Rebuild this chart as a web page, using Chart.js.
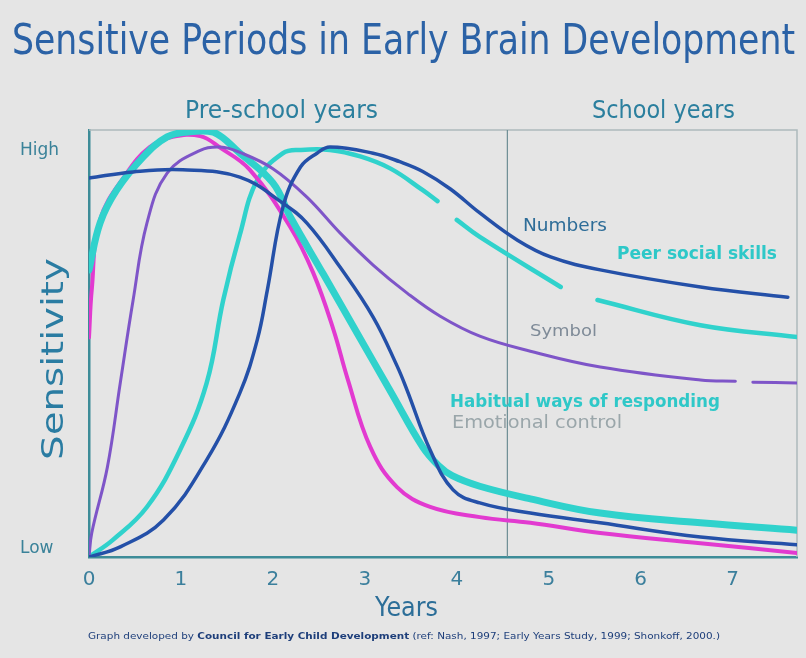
<!DOCTYPE html>
<html>
<head>
<meta charset="utf-8">
<script src="https://cdn.jsdelivr.net/npm/chart.js@4.4.1/dist/chart.umd.min.js"></script>
<style>
    html, body { margin: 0; padding: 0; background: #e5e5e5; }
    canvas { display: block; }
</style>
</head>
<body>
<canvas id="brain-chart" width="806" height="658"></canvas>
<script>
// Escalas: años en X, sensibilidad (0 = Low, 1 = High) en Y
const xTicks = [0, 1, 2, 3, 4, 5, 6, 7];
const yTicks = [0.02, 1];
const yTickLabels = ['Low', 'High'];
const schoolStart = 4.55;   // línea que separa Pre-school / School years

// Curvas (null = hueco en la línea)
const earlyX = [0, 0.48, 1.02, 1.64, 2.11, 2.37, 2.73, 3.09, 3.35, 3.46, 3.71, 3.96, 4.25, 4.80, 5.56, 6.65, 7.70];
const earlyY = [0.932, 0.947, 0.952, 0.934, 0.870, 0.821, 0.713, 0.590, 0.470, 0.410, 0.263, 0.165, 0.133, 0.108, 0.084, 0.049, 0.030];

const habitX = [0, 0.12, 0.30, 0.59, 0.85, 1.07, 1.35, 1.64, 2.00, 2.19, 2.55, 2.92, 3.28, 3.63, 3.80, 3.95, 4.25, 4.80, 5.56, 6.65, 7.70];
const habitY = [0.706, 0.821, 0.902, 0.984, 1.033, 1.045, 1.045, 0.993, 0.920, 0.836, 0.695, 0.549, 0.407, 0.270, 0.225, 0.200, 0.174, 0.143, 0.108, 0.084, 0.066];

const emotionX = [0, 0.03, 0.12, 0.41, 0.66, 0.91, 1.21, 1.43, 1.75, 2.19, 2.44, 2.66, 2.81, 3.06, 3.35, 3.71, 4.25, 4.80, 5.56, 6.65, 7.70];
const emotionY = [0.54, 0.657, 0.829, 0.944, 1.008, 1.033, 1.035, 1.006, 0.952, 0.811, 0.698, 0.558, 0.440, 0.270, 0.172, 0.123, 0.098, 0.084, 0.059, 0.034, 0.010];

const symbolX = [0, 0.03, 0.20, 0.34, 0.48, 0.63, 0.85, 1.21, 1.43, 1.64, 2.00, 2.37, 2.73, 3.09, 3.46, 3.82, 4.25, 4.80, 5.56, 6.65, 7.03, 7.13, 7.22, 7.70];
const symbolY = [0, 0.059, 0.221, 0.428, 0.632, 0.821, 0.944, 1.000, 1.008, 0.995, 0.955, 0.885, 0.797, 0.718, 0.649, 0.592, 0.543, 0.506, 0.467, 0.435, 0.432, null, 0.430, 0.428];

const peerX = [0, 0.26, 0.63, 0.99, 1.28, 1.46, 1.64, 1.83, 2.11, 2.30, 2.62, 2.95, 3.28, 3.63, 3.79, 3.90, 4.00, 4.25, 5.13, 5.33, 5.53, 6.65, 7.70];
const peerY = [0, 0.042, 0.123, 0.263, 0.428, 0.632, 0.792, 0.927, 0.993, 1.001, 1.001, 0.985, 0.955, 0.902, 0.875, null, 0.829, 0.787, 0.664, null, 0.632, 0.570, 0.541];

const numbersX = [0, 0.34, 0.81, 1.28, 1.64, 1.83, 1.94, 2.11, 2.30, 2.48, 2.62, 3.09, 3.38, 3.63, 3.93, 4.25, 4.66, 5.02, 5.56, 6.65, 7.60];
const numbersY = [0, 0.025, 0.091, 0.239, 0.403, 0.534, 0.657, 0.861, 0.959, 0.993, 1.008, 0.993, 0.972, 0.948, 0.905, 0.846, 0.779, 0.738, 0.706, 0.664, 0.639];

const colors = {
    navy: '#2450a8',
    cyan: '#30d2cc',
    magenta: '#e23ad0',
    purple: '#7e55c8',
    axis: '#3d8c98',
    text: '#2b7f9e'
};

function toPoints(xs, ys) {
    return xs.map((x, i) => ({ x: x, y: ys[i] }));
}

function curve(label, xs, ys, color, width) {
    return {
        label: label,
        data: toPoints(xs, ys),
        borderColor: color,
        borderWidth: width,
        borderCapStyle: 'round',
        borderJoinStyle: 'round',
        pointRadius: 0,
        tension: 0.4,
        fill: false
    };
}

// Texto comprimido horizontalmente para imitar la tipografía estrecha del original
function squeezeText(ctx, text, x, y, size, weight, color, width) {
    ctx.save();
    ctx.font = weight + ' ' + size + 'px "DejaVu Sans", sans-serif';
    const k = width / ctx.measureText(text).width;
    ctx.translate(x, y);
    ctx.scale(k, 1);
    ctx.fillStyle = color;
    ctx.textAlign = 'left';
    ctx.textBaseline = 'alphabetic';
    ctx.fillText(text, 0, 0);
    ctx.restore();
}

const backgroundPlugin = {
    id: 'background',
    beforeDraw(chart) {
        const ctx = chart.ctx;
        ctx.save();
        ctx.fillStyle = '#e5e5e5';
        ctx.fillRect(0, 0, chart.width, chart.height);
        ctx.restore();
    }
};

const framePlugin = {
    id: 'frame',
    beforeDatasetsDraw(chart) {
        const ctx = chart.ctx;
        const area = chart.chartArea;
        const xs = chart.scales.x.getPixelForValue(schoolStart);
        ctx.save();
        ctx.lineWidth = 1.5;
        ctx.strokeStyle = '#adb9bc';
        ctx.beginPath();
        ctx.moveTo(area.left, area.top);
        ctx.lineTo(area.right, area.top);
        ctx.lineTo(area.right, area.bottom);
        ctx.stroke();
        ctx.lineWidth = 1.2;
        ctx.strokeStyle = '#6d8d94';
        ctx.beginPath();
        ctx.moveTo(xs, area.top);
        ctx.lineTo(xs, area.bottom);
        ctx.stroke();
        ctx.restore();
    }
};

const labelsPlugin = {
    id: 'labels',
    afterDraw(chart) {
        const ctx = chart.ctx;
        squeezeText(ctx, 'Sensitive Periods in Early Brain Development', 12, 54, 42, 'normal', '#2b62a6', 783);
        squeezeText(ctx, 'Pre-school years', 185, 118, 25, 'normal', colors.text, 193);
        squeezeText(ctx, 'School years', 592, 118, 25, 'normal', colors.text, 143);
        squeezeText(ctx, 'Years', 375, 616, 26, 'normal', '#2c6e98', 63);

        ctx.save();
        ctx.translate(63, 460);
        ctx.rotate(-Math.PI / 2);
        squeezeText(ctx, 'Sensitivity', 0, 0, 30, 'normal', '#2a7ca2', 202);
        ctx.restore();

        squeezeText(ctx, 'Numbers', 523, 231, 17, 'normal', '#2e6d98', 84);
        squeezeText(ctx, 'Peer social skills', 617, 259, 17, 'bold', '#2ec8c8', 160);
        squeezeText(ctx, 'Symbol', 530, 336, 16, 'normal', '#7f8b98', 67);
        squeezeText(ctx, 'Habitual ways of responding', 450, 407, 18, 'bold', '#2fc8c8', 270);
        squeezeText(ctx, 'Emotional control', 452, 428, 17, 'normal', '#9aa6aa', 170);

        // Pie de gráfico con la parte central en negrita
        const parts = [
            ['Graph developed by ', 'normal'],
            ['Council for Early Child Development', 'bold'],
            [' (ref: Nash, 1997; Early Years Study, 1999; Shonkoff, 2000.)', 'normal']
        ];
        ctx.save();
        let total = 0;
        parts.forEach(p => {
            ctx.font = p[1] + ' 9.5px "DejaVu Sans", sans-serif';
            total += ctx.measureText(p[0]).width;
        });
        const k = 632 / total;
        ctx.translate(88, 639);
        ctx.scale(k, 1);
        ctx.fillStyle = '#1d3e7a';
        let cx = 0;
        parts.forEach(p => {
            ctx.font = p[1] + ' 9.5px "DejaVu Sans", sans-serif';
            ctx.fillText(p[0], cx, 0);
            cx += ctx.measureText(p[0]).width;
        });
        ctx.restore();
    }
};

const ctx = document.getElementById('brain-chart').getContext('2d');
const chart = new Chart(ctx, {
    type: 'line',
    data: {
        datasets: [
            curve('Numbers', numbersX, numbersY, colors.navy, 3.5),
            curve('Early', earlyX, earlyY, colors.navy, 3.5),
            curve('Symbol', symbolX, symbolY, colors.purple, 3),
            curve('Habitual ways of responding', habitX, habitY, colors.cyan, 7),
            curve('Emotional control', emotionX, emotionY, colors.magenta, 4),
            curve('Peer social skills', peerX, peerY, colors.cyan, 4.5)
        ]
    },
    options: {
        responsive: false,
        animation: false,
        layout: { padding: { top: 130, left: 20, right: 9, bottom: 0 } },
        plugins: {
            legend: { display: false },
            tooltip: { enabled: false }
        },
        scales: {
            x: {
                type: 'linear',
                min: 0,
                max: 7.7,
                grid: { display: false, drawTicks: false },
                border: { color: colors.axis, width: 2.5 },
                afterBuildTicks: scale => { scale.ticks = xTicks.map(v => ({ value: v })); },
                afterFit: scale => { scale.height = 101; },
                ticks: {
                    padding: 11,
                    color: '#3b7f9c',
                    font: { family: 'DejaVu Sans', size: 20 }
                }
            },
            y: {
                min: 0,
                max: 1.05,
                grid: { display: false, drawTicks: false },
                border: { color: colors.axis, width: 2.5 },
                afterBuildTicks: scale => { scale.ticks = yTicks.map(v => ({ value: v })); },
                afterFit: scale => { scale.width = 69; },
                ticks: {
                    crossAlign: 'far',
                    color: '#3a8299',
                    font: { family: 'DejaVu Sans', size: 17 },
                    callback: (value, index) => yTickLabels[index]
                }
            }
        }
    },
    plugins: [backgroundPlugin, framePlugin, labelsPlugin]
});
</script>
</body>
</html>
